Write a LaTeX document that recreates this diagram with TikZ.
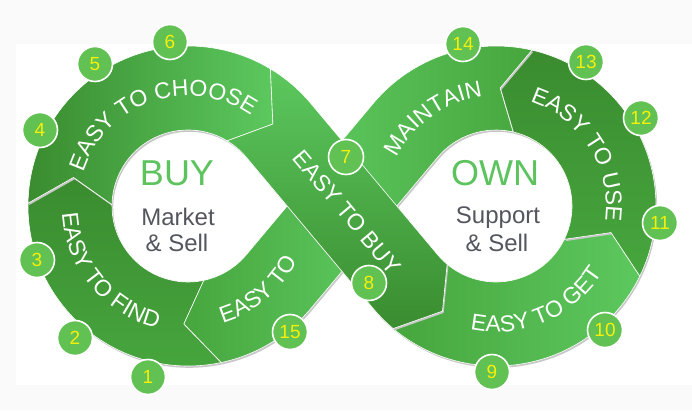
\documentclass[tikz,border=0pt]{standalone}
\usepackage{fontspec}
\setmainfont{Liberation Sans}
\usetikzlibrary{calc, decorations.text}
\definecolor{bggray}{HTML}{FAFAFA}
\definecolor{bandDark}{HTML}{3A8C2F}
\definecolor{bandMid}{HTML}{47A63E}
\definecolor{bandLight}{HTML}{5CC85E}
\definecolor{numgreen}{HTML}{62C153}
\definecolor{numyellow}{HTML}{F5F00A}
\definecolor{titlegreen}{HTML}{5DC35F}
\definecolor{subgray}{HTML}{54565E}
\newcommand{\bandfont}{\fontsize{23}{23}\selectfont}

\begin{document}
\begin{tikzpicture}[x=1pt, y=1pt,
    seg/.style={draw=white, line width=0.6pt,
        preaction={fill=black!22, transform canvas={shift={(1.2pt,-1.8pt)}}}},
    bandtext/.style={decorate, decoration={text along path, text align=center,
        text color=white, text={|\bandfont|#1}}},
    num/.style={circle, fill=numgreen, draw=white, line width=1.6pt,
        minimum size=35pt, inner sep=0pt, text=numyellow,
        font=\fontsize{19}{19}\selectfont},
    title/.style={text=titlegreen, font=\fontsize{36}{36}\selectfont},
    sub/.style={text=subgray, font=\fontsize{24}{24}\selectfont}]
    \useasboundingbox (0,0) rectangle (692,410);
    \fill[bggray] (0,0) rectangle (692,410);
    \fill[white] (16,25) rectangle (692,366);
    % loop centres and crossing
    \coordinate (L) at (188,204);
    \coordinate (R) at (496,204);
    \coordinate (M) at (342,204);
    % left loop
    \path[seg, top color=bandDark, bottom color=bandMid]
        ($(L)+(282:160pt)$) arc[start angle=282, end angle=179, radius=160pt]
        -- ($(L)+(166:118pt)$) -- ($(L)+(179:76pt)$)
        arc[start angle=179, end angle=282, radius=76pt]
        -- ($(L)+(268:118pt)$) -- cycle;
    \path[seg, left color=bandDark, right color=bandLight]
        ($(L)+(179:160pt)$) arc[start angle=179, end angle=59, radius=160pt]
        -- ($(L)+(44:118pt)$) -- ($(L)+(59:76pt)$)
        arc[start angle=59, end angle=179, radius=76pt]
        -- ($(L)+(166:118pt)$) -- cycle;
    % right loop
    \path[seg, left color=bandMid, right color=bandLight]
        ($(R)+(230:160pt)$) arc[start angle=230, end angle=334, radius=160pt]
        -- ($(R)+(347:118pt)$) -- ($(R)+(334:76pt)$)
        arc[start angle=334, end angle=230, radius=76pt]
        -- ($(R)+(243:118pt)$) -- cycle;
    \path[seg, top color=bandDark, bottom color=bandMid]
        ($(R)+(334:160pt)$) arc[start angle=334, end angle=437, radius=160pt]
        -- ($(R)+(448:118pt)$) -- ($(R)+(437:76pt)$)
        arc[start angle=437, end angle=334, radius=76pt]
        -- ($(R)+(347:118pt)$) -- cycle;
    \path[seg, left color=bandLight, right color=bandMid]
        ($(R)+(77:160pt)$) arc[start angle=77, end angle=140, radius=160pt]
        -- ($(M)+(140:42pt)$) -- ($(M)+(320:42pt)$) -- ($(R)+(140:76pt)$)
        arc[start angle=140, end angle=77, radius=76pt]
        -- ($(R)+(88:118pt)$) -- cycle;
    \path[seg, left color=bandMid, right color=bandLight]
        ($(M)+(140:42pt)$) -- ($(L)+(320:76pt)$)
        arc[start angle=320, end angle=282, radius=76pt]
        -- ($(L)+(268:118pt)$) -- ($(L)+(282:160pt)$)
        arc[start angle=282, end angle=320, radius=160pt]
        -- ($(M)+(320:42pt)$) -- cycle;
    % crossing band on top
    \path[seg, top color=bandLight, bottom color=bandDark]
        ($(L)+(59:160pt)$) arc[start angle=59, end angle=40, radius=160pt]
        -- ($(R)+(220:76pt)$) arc[start angle=220, end angle=230, radius=76pt]
        -- ($(R)+(243:118pt)$) -- ($(R)+(230:160pt)$)
        arc[start angle=230, end angle=220, radius=160pt]
        -- ($(L)+(40:76pt)$) arc[start angle=40, end angle=59, radius=76pt]
        -- ($(L)+(44:118pt)$) -- cycle;
    % band labels
    \path[bandtext=EASY TO FIND] ($(L)+(170:126pt)$) arc[start angle=170, end angle=269, radius=126pt];
    \path[bandtext=EASY TO CHOOSE] ($(L)+(170:110pt)$) arc[start angle=170, end angle=47, radius=110pt];
    \path[bandtext=EASY TO] ($(L)+(284:122pt)$) arc[start angle=284, end angle=336, radius=122pt];
    \path[bandtext=EASY TO GET] ($(R)+(253:126pt)$) arc[start angle=253, end angle=333, radius=126pt];
    \path[bandtext=EASY TO USE] ($(R)+(75:110pt)$) arc[start angle=75, end angle=-11, radius=110pt];
    \path[bandtext=MAINTAIN] ($(R)+(160:110pt)$) arc[start angle=160, end angle=91, radius=110pt];
    \node[rotate=-50, text=white, font=\bandfont] (buyband) at ($(M)+(-50:8pt)$) {EASY TO BUY};
    % centre texts
    \node[title] (buy) at (177,237) {BUY};
    \node[sub] (market) at (178,193) {Market};
    \node[sub] (msell) at (177,167) {\& Sell};
    \node[title] (own) at (495,237) {OWN};
    \node[sub] (support) at (498,192) {Support};
    \node[sub] (ssell) at (497,167) {\& Sell};
    % step numbers
    \foreach \n/\x/\y in {1/148/33, 2/75/72, 3/37/150, 4/40/280, 5/95/346,
        6/170/368, 7/346/253, 8/369/127, 9/492/38, 10/605/80, 11/660/187,
        12/641/292, 13/586/348, 14/463/366, 15/290/78}
        \node[num] (n\n) at (\x,\y) {\n};
\end{tikzpicture}
\end{document}
